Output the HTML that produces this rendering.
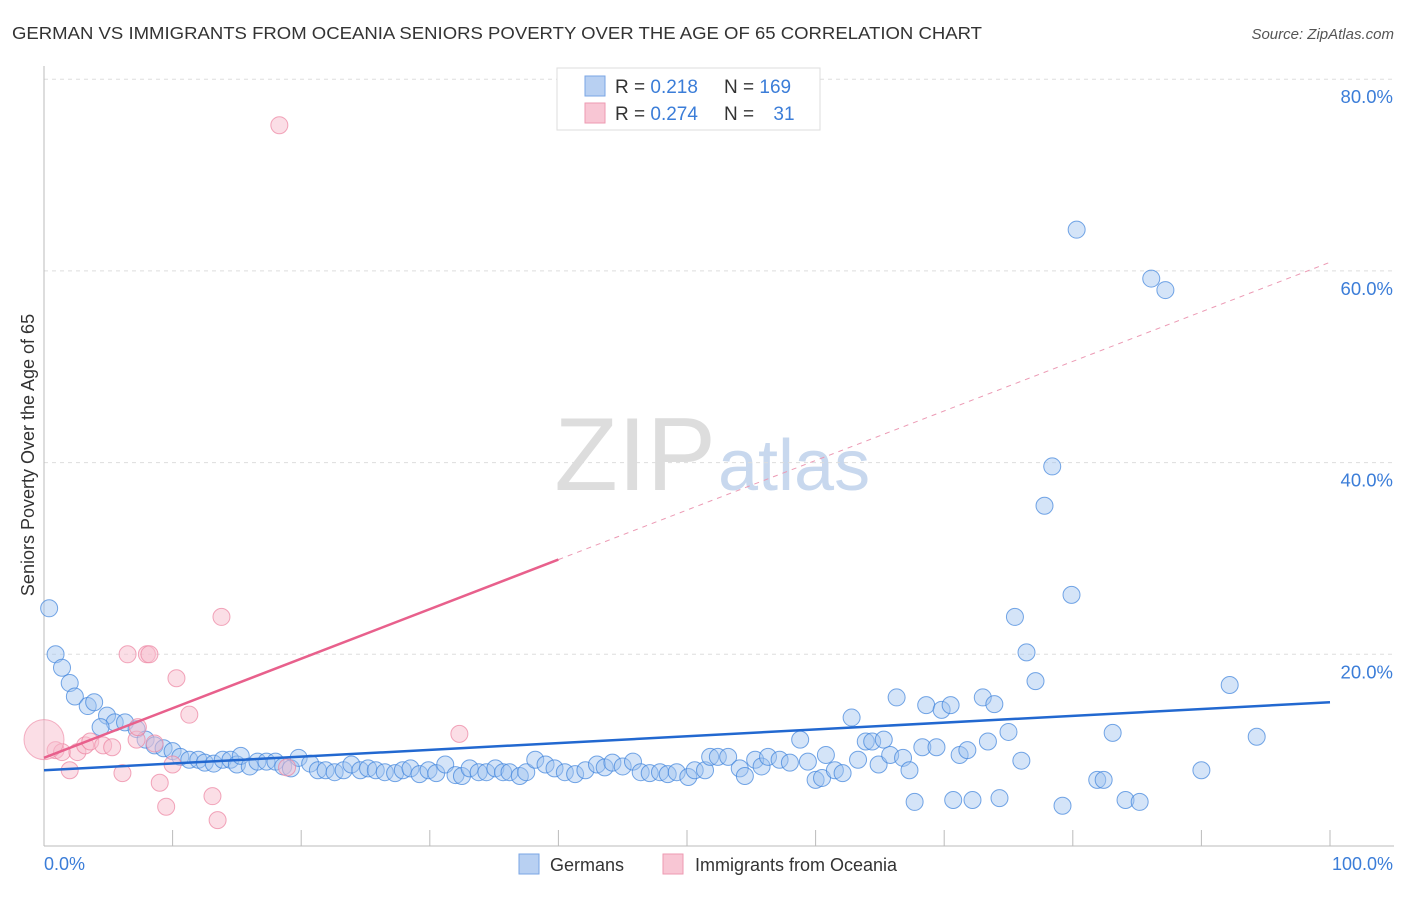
<!DOCTYPE html>
<html><head><meta charset="utf-8"><style>
body{margin:0;background:#fff;font-family:"Liberation Sans",sans-serif;}
svg text{font-family:"Liberation Sans",sans-serif;}
</style></head><body>
<svg id="chart" width="1406" height="892" viewBox="0 0 1406 892">
<text x="12" y="39" font-size="17.5" fill="#333" textLength="970" lengthAdjust="spacingAndGlyphs">GERMAN VS IMMIGRANTS FROM OCEANIA SENIORS POVERTY OVER THE AGE OF 65 CORRELATION CHART</text>
<text x="1394" y="39" font-size="15" fill="#555" font-style="italic" text-anchor="end">Source: ZipAtlas.com</text>
<text x="716" y="490" font-size="104" fill="#ddd" text-anchor="end" font-family="Liberation Serif">ZIP</text>
<text x="718" y="490" font-size="72" fill="#c8d8ee">atlas</text>
<g id="grid"></g>
<g id="axes"></g>
<g id="pts"></g>
<g id="lines"></g>
<text transform="translate(34,455) rotate(-90)" font-size="18" fill="#333" text-anchor="middle">Seniors Poverty Over the Age of 65</text>
<text x="44" y="870" font-size="18" fill="#3b7dd8">0.0%</text>
<text x="1393" y="870" font-size="18" fill="#3b7dd8" text-anchor="end">100.0%</text>
<g>
<rect x="557" y="68" width="263" height="62" fill="#fff" stroke="#ddd"/>
<rect x="585" y="76" width="20" height="20" fill="#b8d0f2" stroke="#7aa6e4"/>
<rect x="585" y="103" width="20" height="20" fill="#f8c6d4" stroke="#ee9ab2"/>
<text x="615" y="93" font-size="19" fill="#333">R = <tspan fill="#3b7dd8">0.218</tspan></text>
<text x="724" y="93" font-size="19" fill="#333">N = <tspan fill="#3b7dd8">169</tspan></text>
<text x="615" y="120" font-size="19" fill="#333">R = <tspan fill="#3b7dd8">0.274</tspan></text>
<text x="724" y="120" font-size="19" fill="#333">N = <tspan fill="#3b7dd8" dx="14">31</tspan></text>
</g>
<g>
<rect x="519" y="854" width="20" height="20" fill="#b8d0f2" stroke="#7aa6e4"/>
<text x="550" y="871" font-size="18" fill="#333">Germans</text>
<rect x="663" y="854" width="20" height="20" fill="#f8c6d4" stroke="#ee9ab2"/>
<text x="695" y="871" font-size="18" fill="#333">Immigrants from Oceania</text>
</g>
</svg>
<script>
const yTicks=[20,40,60,80];
const yTickLabels=["20.0%","40.0%","60.0%","80.0%"];
const xTicks=[0,10,20,30,40,50,60,70,80,90,100];
const germansX=[0.4,0.9,1.4,2.0,2.4,3.4,3.9,4.9,5.5,4.4,6.3,7.2,7.9,8.6,9.3,10,10.6,11.3,12,12.5,13.2,13.9,14.5,15,15.3,16,16.6,17.3,18,18.6,19.2,19.8,20.7,21.3,21.9,22.6,23.3,23.9,24.6,25.2,25.8,26.5,27.3,27.9,28.5,29.2,29.9,30.5,31.2,32,32.5,33.1,33.8,34.4,35.1,35.7,36.2,37,37.5,38.2,39,39.7,40.5,41.3,42.1,43,43.6,44.2,45,45.8,46.4,47.1,47.9,48.5,49.2,50.1,50.6,51.4,51.8,52.4,53.2,54.1,54.5,55.3,55.8,56.3,57.2,58,58.8,59.4,60,60.5,60.8,61.5,62.1,62.8,63.3,63.9,64.4,64.9,65.3,65.8,66.3,66.8,67.3,67.7,68.6,68.3,69.4,69.8,70.5,70.7,71.2,71.8,72.2,73,73.4,73.9,74.3,75,75.5,76,76.4,77.1,77.8,78.4,79.2,79.9,80.3,81.9,82.4,83.1,84.1,85.2,86.1,87.2,90,92.2,94.3];
const germansY=[24.8,20.0,18.6,17.0,15.6,14.6,15.0,13.6,12.9,12.4,12.9,12.2,11.1,10.5,10.2,9.9,9.3,9.0,9.0,8.7,8.6,9.0,9.0,8.5,9.4,8.3,8.8,8.8,8.8,8.3,8.1,9.2,8.6,7.9,7.9,7.7,7.9,8.5,7.9,8.1,7.9,7.7,7.6,7.9,8.1,7.5,7.9,7.6,8.5,7.4,7.3,8.1,7.7,7.7,8.1,7.7,7.7,7.3,7.7,9.0,8.5,8.1,7.7,7.5,7.9,8.5,8.2,8.7,8.3,8.8,7.7,7.6,7.7,7.5,7.7,7.2,7.9,7.9,9.3,9.3,9.3,8.1,7.3,9.0,8.3,9.3,9.0,8.7,11.1,8.8,6.9,7.1,9.5,7.9,7.6,13.4,9.0,10.9,10.9,8.5,11.1,9.5,15.5,9.2,7.9,4.6,14.7,10.3,10.3,14.2,14.7,4.8,9.5,10.0,4.8,15.5,10.9,14.8,5.0,11.9,23.9,8.9,20.2,17.2,35.5,39.6,4.2,26.2,64.3,6.9,6.9,11.8,4.8,4.6,59.2,58.0,7.9,16.8,11.4];
const oceaniaX=[0.9,1.4,2,2.6,3.2,3.6,4.6,5.3,6.1,6.5,7.2,7.3,8,8.2,8.6,9,9.5,10,10.3,11.3,13.1,13.5,13.8,18.3,18.9,32.3];
const oceaniaY=[10.0,9.8,7.9,9.8,10.5,10.9,10.5,10.3,7.6,20.0,11.1,12.4,20.0,20.0,10.7,6.6,4.1,8.5,17.5,13.7,5.2,2.7,23.9,75.2,8.2,11.7];
const bigOceaniaX=[0];
const bigOceaniaY=[11.1];
const germanTrend=[7.9,15.0];
const oceaniaTrend=[9.2,60.9];
const oceaniaSolidEnd=40;

const X=v=>44+v*12.86, Y=v=>846-v*9.585;
const NS="http://www.w3.org/2000/svg";
function mk(tag,attrs,parent){const e=document.createElementNS(NS,tag);for(const k in attrs)e.setAttribute(k,attrs[k]);parent.appendChild(e);return e;}
const grid=document.getElementById('grid'),axes=document.getElementById('axes'),pts=document.getElementById('pts'),lines=document.getElementById('lines');
yTicks.forEach((t,i)=>{
  const l=mk('line',{x1:44,x2:1394,y1:Y(t),y2:Y(t),stroke:'#ddd','stroke-dasharray':'4,4'},grid);
  
  
  const tx=mk('text',{x:1393,y:Y(t)+24,'font-size':18.5,fill:'#3b7dd8','text-anchor':'end'},axes);
  tx.textContent=yTickLabels[i];
  
  
});
const ya=mk('line',{x1:44,x2:44,y1:66,y2:846,stroke:'#bbb'},axes);


const xa=mk('line',{x1:44,x2:1394,y1:846,y2:846,stroke:'#bbb'},axes);


xTicks.forEach(t=>{
  const l=mk('line',{x1:X(t),x2:X(t),y1:830,y2:846,stroke:'#bbb'},axes);
  
  
});
germansX.forEach((x,i)=>{
  const c=mk('circle',{cx:X(x),cy:Y(germansY[i]),r:8.5,fill:'rgba(160,196,240,0.45)',stroke:'rgba(60,130,220,0.7)','stroke-width':1},pts);
  
  
});
oceaniaX.forEach((x,i)=>{
  const c=mk('circle',{cx:X(x),cy:Y(oceaniaY[i]),r:8.5,fill:'rgba(248,190,206,0.5)',stroke:'rgba(236,130,160,0.7)','stroke-width':1},pts);
  
  
});
bigOceaniaX.forEach((x,i)=>{
  const c=mk('circle',{cx:X(x),cy:Y(bigOceaniaY[i]),r:20,fill:'rgba(248,190,206,0.5)',stroke:'rgba(236,130,160,0.6)','stroke-width':1},pts);
  
  
});
const gl=mk('line',{x1:X(0),y1:Y(germanTrend[0]),x2:X(100),y2:Y(germanTrend[1]),stroke:'#2268d0','stroke-width':2.5},lines);


const oMid=oceaniaTrend[0]+(oceaniaTrend[1]-oceaniaTrend[0])*oceaniaSolidEnd/100;
const ol=mk('line',{x1:X(0),y1:Y(oceaniaTrend[0]),x2:X(oceaniaSolidEnd),y2:Y(oMid),stroke:'#e8608c','stroke-width':2.5},lines);


const od=mk('line',{x1:X(oceaniaSolidEnd),y1:Y(oMid),x2:X(100),y2:Y(oceaniaTrend[1]),stroke:'#ec9ab4','stroke-width':1,'stroke-dasharray':'5,5'},lines);


</script>
</body></html>
